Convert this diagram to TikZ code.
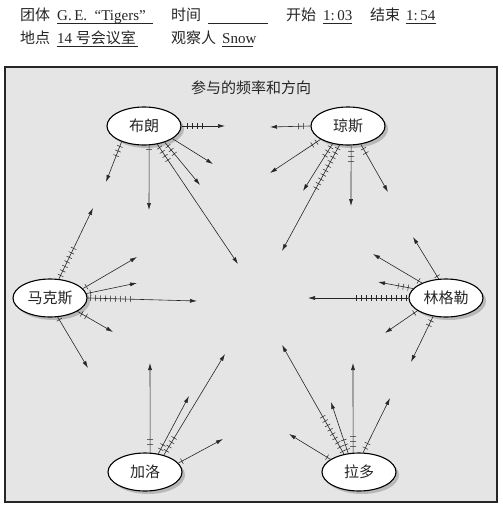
\documentclass[tikz,border=0pt]{standalone}
\usepackage{fontspec}
\setmainfont{Liberation Serif}
\newfontfamily\cjk{Noto Sans CJK SC}
\usetikzlibrary{arrows.meta,calc,shadows,shapes.geometric}

% #1 start (node anchor), #2 end name, #3 end coordinate, #4 number of ticks, #5 offset of first tick
\newcommand{\tallyarrow}[5]{%
  \coordinate (#2) at (#3);
  \draw[conn] (#1) -- (#2);
  \ifnum#4>0
    \foreach \k in {1,...,#4}{%
      \pgfmathsetmacro\tkpos{#5+(\k-1)*5}
      \coordinate (tp) at ($(#1)!\tkpos pt!(#2)$);
      \draw[tk] ($(tp)!3pt!90:(#2)$) -- ($(tp)!3pt!-90:(#2)$);
    }
  \fi
}

\begin{document}
\begin{tikzpicture}[x=1pt,y=-1pt,
  person/.style={ellipse,draw=black,line width=1.1pt,fill=white,
    minimum width=74pt,minimum height=38pt,inner sep=0pt,
    font=\fontsize{15}{18}\selectfont\cjk,text=black!85,
    drop shadow={shadow xshift=3pt,shadow yshift=-3pt,fill=black!45}},
  conn/.style={line width=0.6pt,draw=black!85,-{Latex[length=7pt,width=4pt]}},
  tk/.style={line width=0.5pt,draw=black!85},
  lbl/.style={anchor=base west,inner sep=0pt,font=\fontsize{15}{18}\selectfont,text=black!85},
  ul/.style={line width=0.6pt,draw=black!85}]

\useasboundingbox (0,0) rectangle (503,507);
\fill[white] (0,0) rectangle (503,507);

% header
\node[lbl] (t1) at (20,20) {\cjk 团体};
\node[lbl] (t2) at (57,20) {G.\,E.\ \ “Tigers”};
\node[lbl] (t3) at (171,20) {\cjk 时间};
\node[lbl] (t4) at (286,20) {\cjk 开始};
\node[lbl] (t5) at (323,20) {1:\,03};
\node[lbl] (t6) at (370,20) {\cjk 结束};
\node[lbl] (t7) at (406,20) {1:\,54};
\node[lbl] (t8) at (20,43) {\cjk 地点};
\node[lbl] (t9) at (57,43) {14 {\cjk 号会议室}};
\node[lbl] (t10) at (171,43) {\cjk 观察人};
\node[lbl] (t11) at (222,43) {Snow};
\draw[ul] (57,23) -- (153,23);
\draw[ul] (208,23) -- (268,23);
\draw[ul] (323,23) -- (352,23);
\draw[ul] (406,23) -- (436,23);
\draw[ul] (57,46) -- (138,46);
\draw[ul] (222,46) -- (253,46);

% frame
\draw[line width=1.4pt,draw=black!85,fill=black!10] (5,67) rectangle (497,502);
\node[font=\fontsize{15}{18}\selectfont\cjk,text=black!85] (title) at (251,88) {参与的频率和方向};

% people
\node[person] (brown) at (144,126) {布朗};
\node[person] (jones) at (348,126) {琼斯};
\node[person] (marks) at (50,298) {马克斯};
\node[person] (lingle) at (446,298) {林格勒};
\node[person] (gallo) at (145,472) {加洛};
\node[person] (lado) at (359,472) {拉多};

% Brown
\tallyarrow{brown.east}{b1}{225,126}{4}{6}
\tallyarrow{brown.-145}{b2}{106,182}{3}{5}
\tallyarrow{brown.-75}{b3}{149,210}{1}{4}
\tallyarrow{brown.-54}{b4}{238,264}{4}{4}
\tallyarrow{brown.-38}{b5}{200,185}{3}{5}
\tallyarrow{brown.-24}{b6}{213,164}{0}{0}

% Jones
\tallyarrow{jones.west}{j1}{270,127}{2}{7}
\tallyarrow{jones.-154}{j2}{270,173}{2}{5}
\tallyarrow{jones.-131}{j3}{303,191}{3}{4}
\tallyarrow{jones.-114}{j4}{282,251}{10}{4}
\tallyarrow{jones.-81}{j5}{351,206}{3}{6}
\tallyarrow{jones.-55}{j6}{388,192}{2}{5}

% Marks
\tallyarrow{marks.65}{m1}{93,208}{7}{4}
\tallyarrow{marks.16}{m2}{137,257}{1}{4}
\tallyarrow{marks.7}{m3}{137,283}{1}{4}
\tallyarrow{marks.east}{m4}{197,301}{9}{3}
\tallyarrow{marks.-26}{m5}{113,332}{2}{5}
\tallyarrow{marks.-68}{m6}{88,368}{1}{3}

% Lingle
\tallyarrow{lingle.west}{l1}{308,298}{11}{2}
\tallyarrow{lingle.164}{l2}{378,282}{3}{5}
\tallyarrow{lingle.148}{l3}{373,254}{1}{4}
\tallyarrow{lingle.111}{l4}{413,237}{1}{3}
\tallyarrow{lingle.-156}{l5}{385,333}{1}{4}
\tallyarrow{lingle.-125}{l6}{411,362}{2}{5}

% Gallo
\tallyarrow{gallo.75}{g1}{150,363}{2}{8}
\tallyarrow{gallo.54}{g2}{189,396}{2}{5}
\tallyarrow{gallo.42}{g3}{225,354}{4}{5}
\tallyarrow{gallo.15}{g4}{223,439}{1}{4}

% Lado
\tallyarrow{lado.156}{r1}{289,434}{1}{4}
\tallyarrow{lado.130}{r2}{282,345}{9}{3}
\tallyarrow{lado.120}{r3}{331,402}{3}{4}
\tallyarrow{lado.107}{r4}{353,363}{3}{6}
\tallyarrow{lado.78}{r5}{390,398}{2}{5}
\end{tikzpicture}
\end{document}
